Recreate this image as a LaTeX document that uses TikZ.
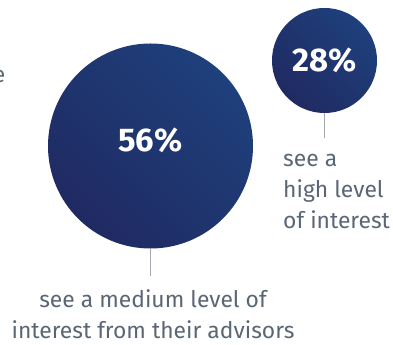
\documentclass[tikz,border=0pt]{standalone}
\usepackage{fontspec}
\setmainfont{Fira Sans}
\usepackage{xcolor}
\usepackage{tikz}

\definecolor{navydark}{HTML}{202A62}
\definecolor{navylight}{HTML}{1E407C}
\definecolor{captiongrey}{HTML}{5B6675}
\definecolor{leadergrey}{HTML}{A3A7AE}

\begin{document}
\begin{tikzpicture}[x=0.03cm, y=-0.03cm,
    bubble/.style={circle, inner sep=0pt,
                   bottom color=navydark, top color=navylight, shading angle=-45,
                   text=white, font=\fontsize{28}{30}\selectfont\bfseries},
    caption/.style={inner sep=0pt, text=captiongrey,
                    font=\fontsize{19.5}{26.4}\selectfont},
    leader/.style={draw=leadergrey, line width=0.9pt}]

    \useasboundingbox (0,0) rectangle (393,345);

    % cut-off word at the left edge
    \node[caption, anchor=base east] (cutword) at (5.5,83) {e};

    % Medium level
    \node[bubble, minimum size=6.15cm] (big) at (150.5,146) {\raisebox{0.36cm}{56\%}};
    \node[caption, align=center, anchor=north, outer ysep=0.42cm] (bigcap) at (153,276)
        {see a medium level of\\interest from their advisors};

    % High level
    \node[bubble, minimum size=3.15cm] (small) at (324.5,60.5) {28\%};
    \node[caption, align=left, anchor=north west, outer ysep=0.5cm] (smallcap) at (283,138)
        {see a\\high level\\of interest};

    % --------------------
    % Leader lines
    % --------------------

    \draw[leader] (big.south) -- (big.south |- bigcap.north);
    \draw[leader] (small.south) -- (small.south |- smallcap.north);

\end{tikzpicture}
\end{document}
